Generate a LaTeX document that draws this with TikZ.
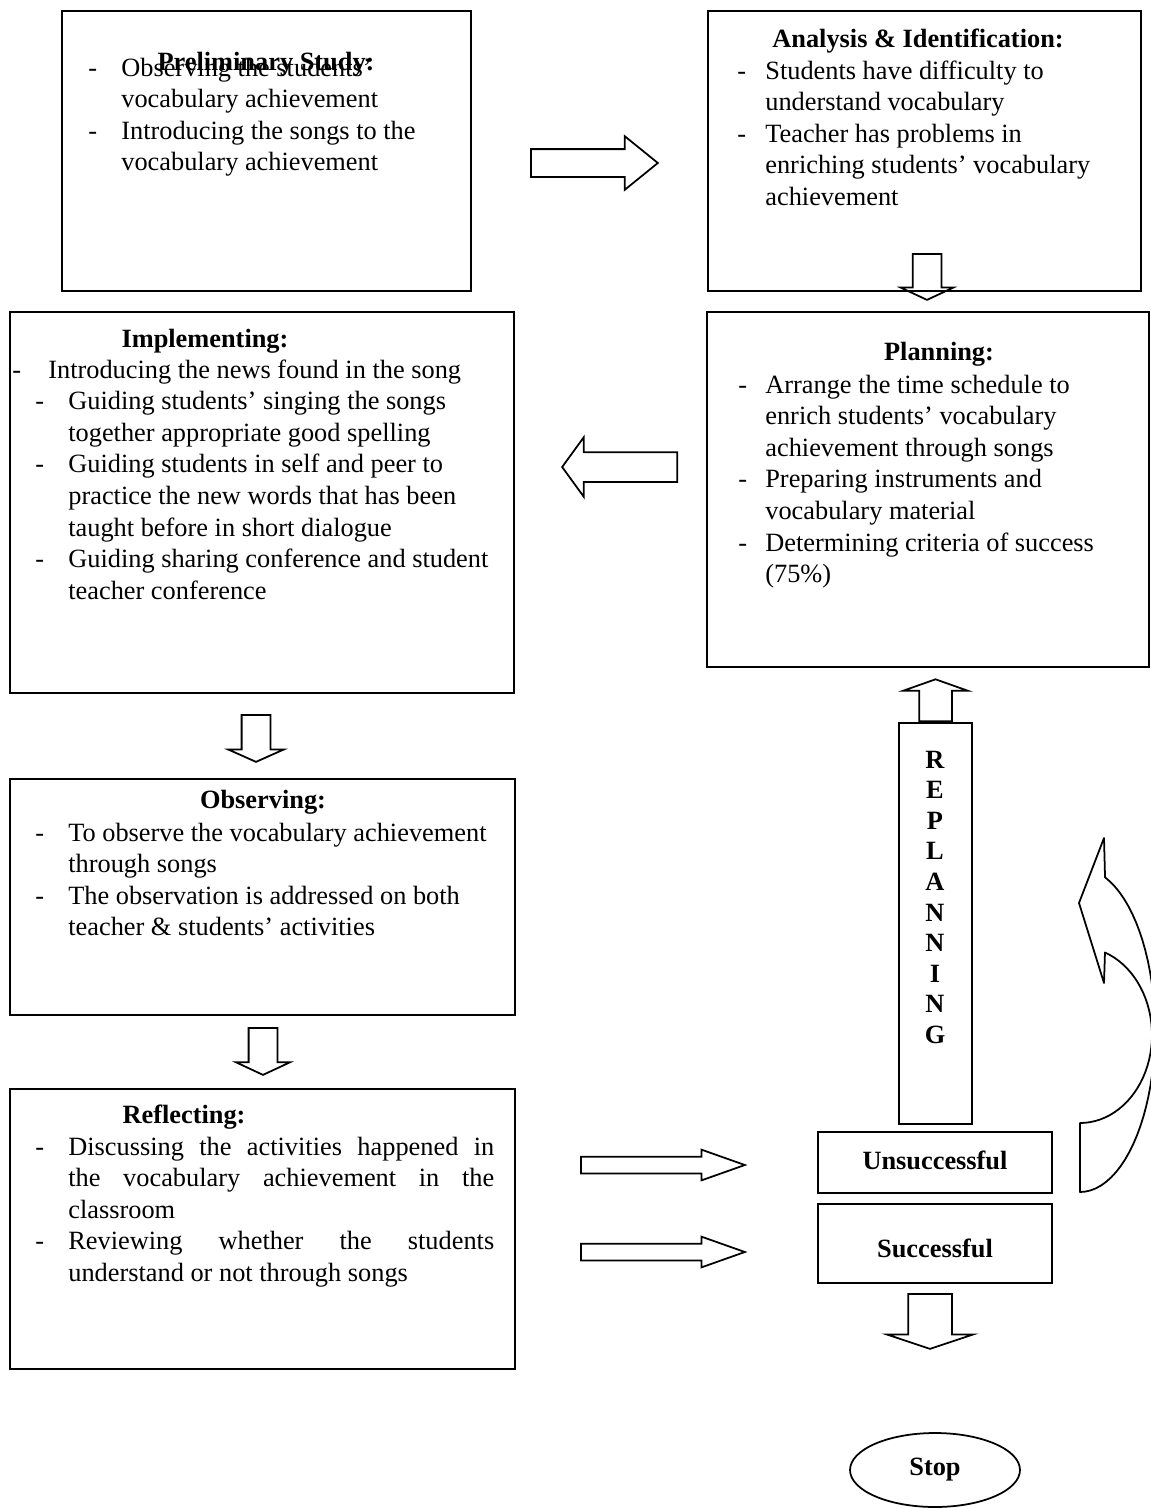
\documentclass[tikz,border=0pt]{standalone}
\usepackage{fontspec}
\setmainfont{Liberation Serif}
\usepackage{array}
\usetikzlibrary{shapes.geometric,shapes.arrows}
\tikzset{
  stepbox/.style ={draw, line width=1pt, inner sep=0pt},
  headtxt/.style ={inner sep=0pt, anchor=base,
                   font=\fontsize{15}{18}\selectfont\bfseries},
  bodytxt/.style ={inner sep=0pt, anchor=base west,
                   font=\fontsize{15}{18}\selectfont},
  %% block arrows between the steps
  blockarr/.style={single arrow, draw, line width=1pt, inner xsep=0pt,
                   single arrow head indent=0pt, anchor=tail},
}

\begin{document}
\begin{tikzpicture}[x=0.02cm,y=-0.02cm]
  \useasboundingbox (0,0) rectangle (1151,1508);
  %% boxes
  \node[stepbox, minimum width=8.18cm, minimum height=5.6cm]  (prelim) at (266.5,151) {};
  \node[stepbox, minimum width=8.66cm, minimum height=5.6cm]  (anal)   at (924.5,151) {};
  \node[stepbox, minimum width=10.08cm, minimum height=7.62cm] (impl)  at (262,502.5) {};
  \node[stepbox, minimum width=8.84cm, minimum height=7.1cm]  (plan)   at (928,489.5) {};
  \node[stepbox, minimum width=10.1cm, minimum height=4.72cm] (obs)    at (262.5,897) {};
  \node[stepbox, minimum width=10.1cm, minimum height=5.6cm]  (refl)   at (262.5,1229) {};
  \node[stepbox, minimum width=4.68cm, minimum height=1.22cm] (unsucc) at (935,1162.5) {};
  \node[stepbox, minimum width=4.68cm, minimum height=1.58cm] (succ)   at (935,1243.5) {};
  \node[stepbox, minimum width=1.46cm, minimum height=8.02cm] (replan) at (935.5,923.5) {};
  \node[stepbox, ellipse, minimum width=3.4cm, minimum height=1.48cm,
        font=\fontsize{15}{18}\selectfont\bfseries] (stop) at (935,1470) {Stop};

  %% texts
  \node[headtxt] (prelimT) at (266,70) {Preliminary Study:};
  \node[bodytxt] (prelimB) at (88,76) {\begin{tabular}[t]{@{}p{0.66cm}@{}l@{}}
    - & Observing the students'\\
      & vocabulary achievement\\
    - & Introducing the songs to the\\
      & vocabulary achievement
  \end{tabular}};
  \node[headtxt] (analT) at (918,47) {Analysis \& Identification:};
  \node[bodytxt] (analB) at (737,79) {\begin{tabular}[t]{@{}p{0.56cm}@{}l@{}}
    - & Students have difficulty to\\
      & understand vocabulary\\
    - & Teacher has problems in\\
      & enriching students' vocabulary\\
      & achievement
  \end{tabular}};
  \node[headtxt] (planT) at (939,360) {Planning:};
  \node[bodytxt] (planB) at (738,393) {\begin{tabular}[t]{@{}p{0.54cm}@{}l@{}}
    - & Arrange the time schedule to\\
      & enrich students' vocabulary\\
      & achievement through songs\\
    - & Preparing instruments and\\
      & vocabulary material\\
    - & Determining criteria of success\\
      & (75\%)
  \end{tabular}};
  \node[headtxt] (implT) at (205,347) {Implementing:};
  \node[bodytxt] (implB) at (35,378) {\begin{tabular}[t]{@{}p{0.66cm}@{}l@{}}
    \hspace*{-0.46cm}- & \hspace*{-0.4cm}Introducing the news found in the song\\
    - & Guiding students' singing the songs\\
      & together appropriate good spelling\\
    - & Guiding students in self and peer to\\
      & practice the new words that has been\\
      & taught before in short dialogue\\
    - & Guiding sharing conference and student\\
      & teacher conference
  \end{tabular}};
  \node[headtxt] (obsT) at (263,808) {Observing:};
  \node[bodytxt] (obsB) at (35,841) {\begin{tabular}[t]{@{}p{0.66cm}@{}l@{}}
    - & To observe the vocabulary achievement\\
      & through songs\\
    - & The observation is addressed on both\\
      & teacher \& students' activities
  \end{tabular}};
  \node[headtxt] (reflT) at (184,1123) {Reflecting:};
  \node[bodytxt] (reflB) at (35,1155) {\begin{tabular}[t]{@{}p{0.66cm}@{}l@{}}
    - & \makebox[8.52cm][s]{Discussing the activities happened in}\\
      & \makebox[8.52cm][s]{the vocabulary achievement in the}\\
      & classroom\\
    - & \makebox[8.52cm][s]{Reviewing whether the students}\\
      & understand or not through songs
  \end{tabular}};
  \node[headtxt] (unsuccT) at (unsucc.center) [yshift=-0.14cm] {Unsuccessful};
  \node[headtxt] (succT) at (succ.center) [yshift=-0.28cm] {Successful};
  \foreach \ch [count=\i from 0] in {R,E,P,L,A,N,N,I,N,G}
    \node[headtxt] (rp\i) at (935,768+30.6*\i) {\ch};

  %% block arrows
  \node[blockarr, minimum height=2.54cm, inner ysep=0.26cm,
        single arrow head extend=0.26cm, single arrow tip angle=78] (a1) at (530,163) {};
  \node[blockarr, rotate=-90, minimum height=0.92cm, inner ysep=0.27cm,
        single arrow head extend=0.24cm, single arrow tip angle=130] (a2) at (927,253) {};
  \node[blockarr, rotate=180, minimum height=2.3cm, inner ysep=0.28cm,
        single arrow head extend=0.3cm, single arrow tip angle=108] (a3) at (678,467) {};
  \node[blockarr, rotate=-90, minimum height=0.94cm, inner ysep=0.27cm,
        single arrow head extend=0.27cm, single arrow tip angle=132] (a4) at (256,714) {};
  \node[blockarr, rotate=-90, minimum height=0.94cm, inner ysep=0.27cm,
        single arrow head extend=0.25cm, single arrow tip angle=130] (a5) at (263,1027) {};
  \node[blockarr, minimum height=3.28cm, inner ysep=0.15cm,
        single arrow head extend=0.14cm, single arrow tip angle=39] (a6) at (580,1165) {};
  \node[blockarr, minimum height=3.28cm, inner ysep=0.15cm,
        single arrow head extend=0.14cm, single arrow tip angle=39] (a7) at (580,1252) {};
  \node[blockarr, rotate=90, minimum height=0.84cm, inner ysep=0.31cm,
        single arrow head extend=0.32cm, single arrow tip angle=141] (a8) at (replan.north) {};
  \node[blockarr, rotate=-90, minimum height=1.1cm, inner ysep=0.42cm,
        single arrow head extend=0.42cm, single arrow tip angle=143] (a9) at (930,1293) {};

  %% curved loop arrow
  \draw[line width=1pt, line join=round] (1080,1192)
    -- plot[domain=90:-70.5, samples=40] ({1080+75*cos(\x)},{1030+162*sin(\x)})
    -- (1104,838) -- (1079,903) -- (1104,983)
    -- plot[domain=-69.7:90, samples=40] ({1080+72*cos(\x)},{1035+88*sin(\x)})
    -- cycle;
\end{tikzpicture}
\end{document}
